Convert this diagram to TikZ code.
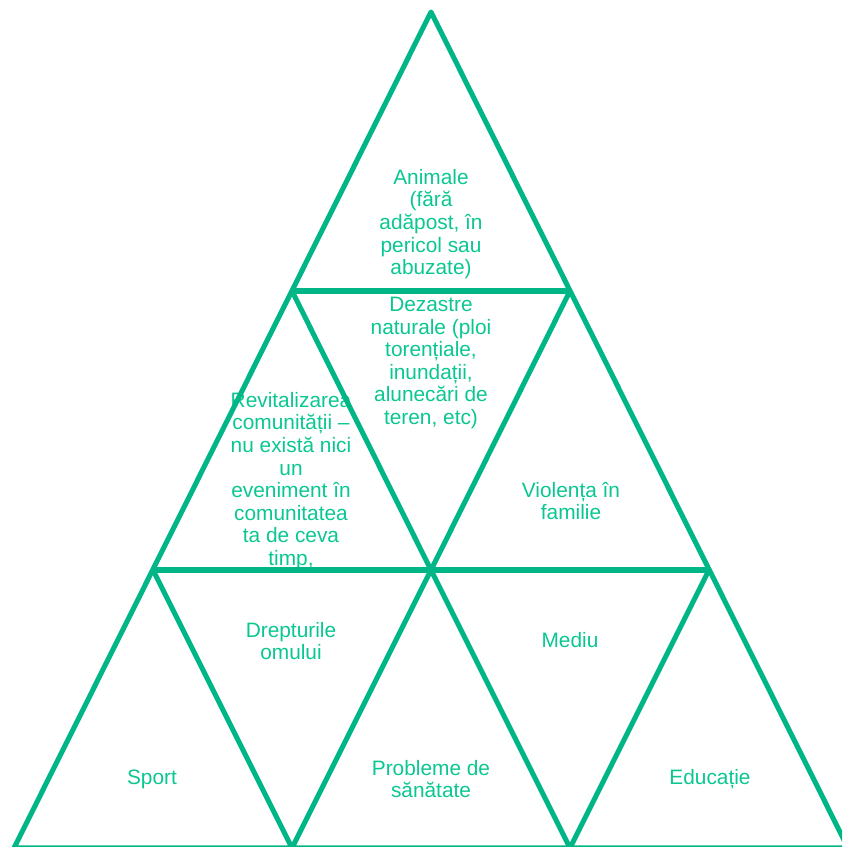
\documentclass[tikz,border=0pt]{standalone}
\usepackage{fontspec}
\setmainfont{Liberation Sans}
\usepackage{xcolor}
\definecolor{pyramidgreen}{RGB}{0,181,134}
\definecolor{topicgreen}{RGB}{10,199,145}

\begin{document}
\begin{tikzpicture}[
    x = 0.03cm,
    y = -0.03cm,
    line join = round,
    edge/.style = {draw=pyramidgreen, line width=4.3pt},
    topic/.style = {text=topicgreen, align=center, inner sep=0pt,
        font=\fontsize{17.8}{19.3}\selectfont}
]
    \clip (0,0) rectangle (842,847);

    \coordinate (t0) at (431,12);
    \coordinate (a1) at (292,291);
    \coordinate (a2) at (570,291);
    \coordinate (b1) at (153,570);
    \coordinate (b2) at (431,570);
    \coordinate (b3) at (709,570);
    \coordinate (c1) at (14,848);
    \coordinate (c2) at (292,848);
    \coordinate (c3) at (570,848);
    \coordinate (c4) at (848,848);

    \node[topic] (animale) at (431,224) {Animale\\(fără\\adăpost, în\\pericol sau\\abuzate)};
    \node[topic] (dezastre) at (431,363) {Dezastre\\naturale (ploi\\torențiale,\\inundații,\\alunecări de\\teren, etc)};
    \node[topic] (revital) at (291,481) {Revitalizarea\\comunității –\\nu există nici\\un\\eveniment în\\comunitatea\\ta de ceva\\timp,};
    \node[topic] (violenta) at (571,501) {Violența în\\familie};
    \node[topic] (drepturi) at (291,641) {Drepturile\\omului};
    \node[topic] (mediu) at (570,640) {Mediu};
    \node[topic] (sport) at (152,779) {Sport};
    \node[topic] (sanatate) at (431,779) {Probleme de\\sănătate};
    \node[topic] (educatie) at (710,779) {Educație};

    \draw[edge] (t0) -- (c1) -- (c4) -- cycle;
    \draw[edge] (a1) -- (a2);
    \draw[edge] (b1) -- (b3);
    \draw[edge] (a1) -- (b2) -- (c3);
    \draw[edge] (a2) -- (b2) -- (c2);
    \draw[edge] (b1) -- (c2);
    \draw[edge] (b3) -- (c3);
\end{tikzpicture}
\end{document}
